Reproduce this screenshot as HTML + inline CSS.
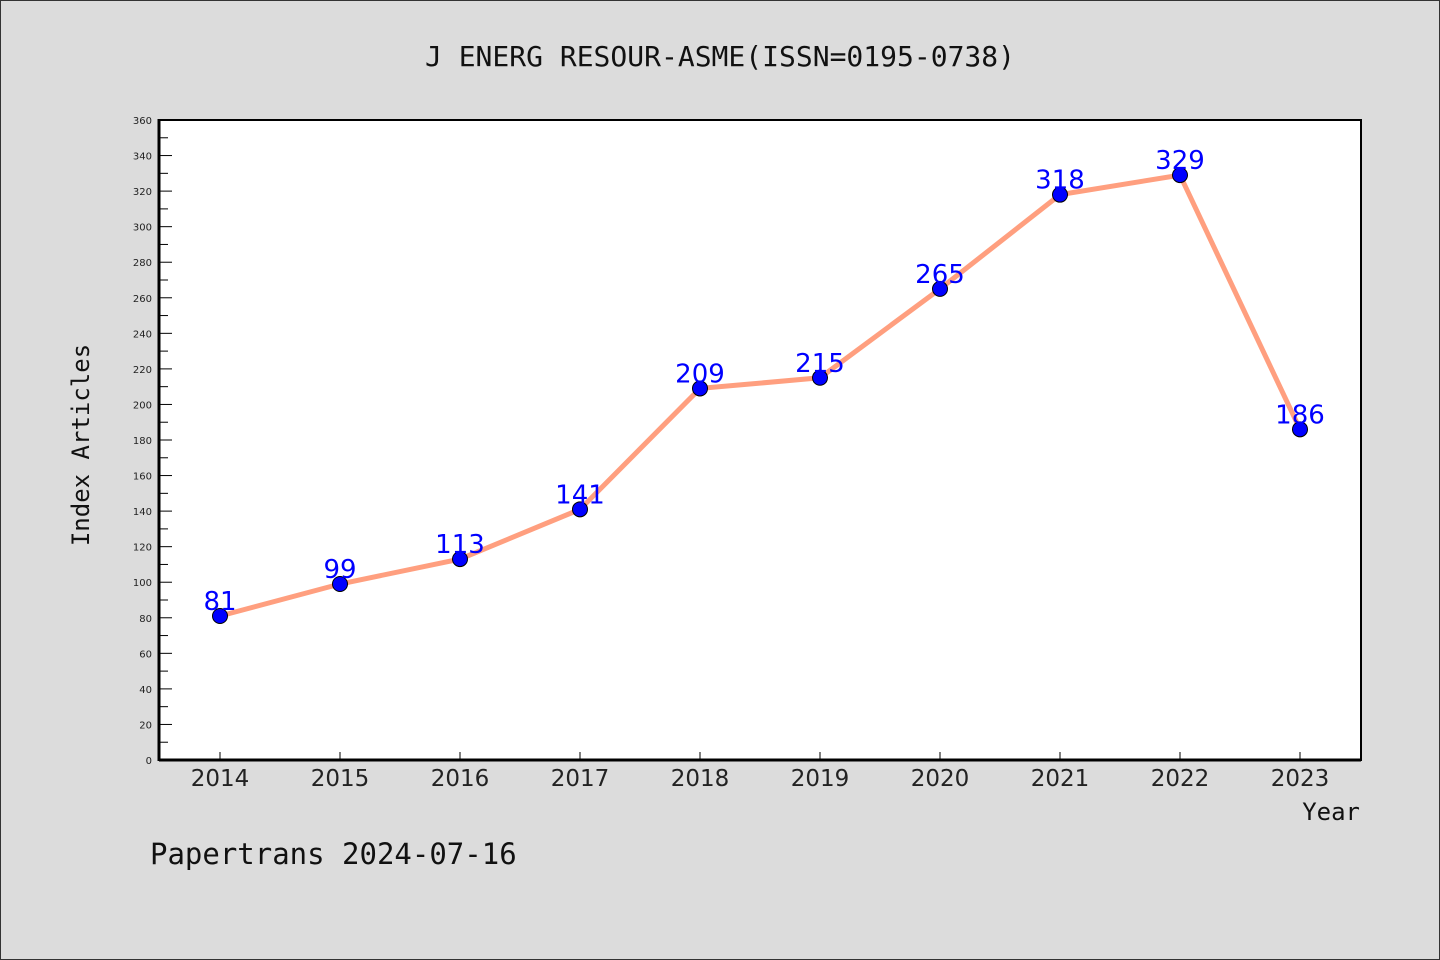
<!DOCTYPE html>
<html><head><meta charset="utf-8"><style>
html,body{margin:0;padding:0;background:#dcdcdc}
svg{display:block}
</style></head><body>
<svg id="chart" width="1440" height="960" xmlns="http://www.w3.org/2000/svg">
<rect x="0.5" y="0.5" width="1439" height="959" fill="#dcdcdc" stroke="#333" stroke-width="1"/>
<text x="720" y="66" text-anchor="middle" font-family="DejaVu Sans Mono, Liberation Mono, monospace" font-size="28" fill="#111">J ENERG RESOUR-ASME(ISSN=0195-0738)</text>
<rect x="159" y="120" width="1202" height="640" fill="#fff" stroke="#000" stroke-width="2"/>
<g id="ticks"></g>
<text transform="translate(89,445) rotate(-90)" text-anchor="middle" font-family="DejaVu Sans Mono, Liberation Mono, monospace" font-size="24" fill="#111">Index Articles</text>
<text x="1360" y="820" text-anchor="end" font-family="DejaVu Sans Mono, Liberation Mono, monospace" font-size="24" fill="#111">Year</text>
<text x="150" y="864" font-family="DejaVu Sans Mono, Liberation Mono, monospace" font-size="29" fill="#111">Papertrans 2024-07-16</text>
<g id="series"></g>
</svg>
<script>
const years = ["2014","2015","2016","2017","2018","2019","2020","2021","2022","2023"];
const articles = [81,99,113,141,209,215,265,318,329,186];
const yTicks = [0,20,40,60,80,100,120,140,160,180,200,220,240,260,280,300,320,340,360];
const NS="http://www.w3.org/2000/svg";
const x = i => 220 + i*120;
const y = v => 760 - v*(640/360);
function mk(t,a,p){const e=document.createElementNS(NS,t);for(const k in a)e.setAttribute(k,a[k]);p.appendChild(e);return e;}
const tg=document.getElementById('ticks');
// bottom axis thicker
const ax=mk('line',{x1:159,y1:760,x2:1361,y2:760,stroke:'#000','stroke-width':3},tg);

const ay=mk('line',{x1:159,y1:119,x2:159,y2:761,stroke:'#000','stroke-width':3},tg);

for(let v=0;v<=360;v+=10){
  const major=v%20===0;
  const l=mk('line',{x1:160,x2:major?172:168,y1:y(v),y2:y(v),stroke:'#000','stroke-width':1},tg);
  
}
yTicks.forEach(v=>{
  const t=mk('text',{x:152,y:y(v)+4,'text-anchor':'end','font-family':'DejaVu Sans, Liberation Sans, sans-serif','font-size':10,fill:'#222'},tg);
  t.textContent=v;
  
});
years.forEach((yr,i)=>{
  const l=mk('line',{x1:x(i),x2:x(i),y1:759,y2:752,stroke:'#000','stroke-width':1},tg);
  
  const t=mk('text',{x:x(i),y:786,'text-anchor':'middle','font-family':'DejaVu Sans, Liberation Sans, sans-serif','font-size':23,fill:'#222'},tg);
  t.textContent=yr;
  
});
const sg=document.getElementById('series');
const pl=mk('polyline',{points:articles.map((v,i)=>x(i)+','+y(v)).join(' '),fill:'none',stroke:'#ff9f7f','stroke-width':5},sg);

articles.forEach((v,i)=>{
  const c=mk('circle',{cx:x(i),cy:y(v),r:7.5,fill:'#0000ff',stroke:'#000','stroke-width':1},sg);
  
  const t=mk('text',{x:x(i),y:y(v)-6,'text-anchor':'middle','font-family':'DejaVu Sans, Liberation Sans, sans-serif','font-size':26,fill:'#0000ff'},sg);
  t.textContent=v;
  
});
</script>
</body></html>
